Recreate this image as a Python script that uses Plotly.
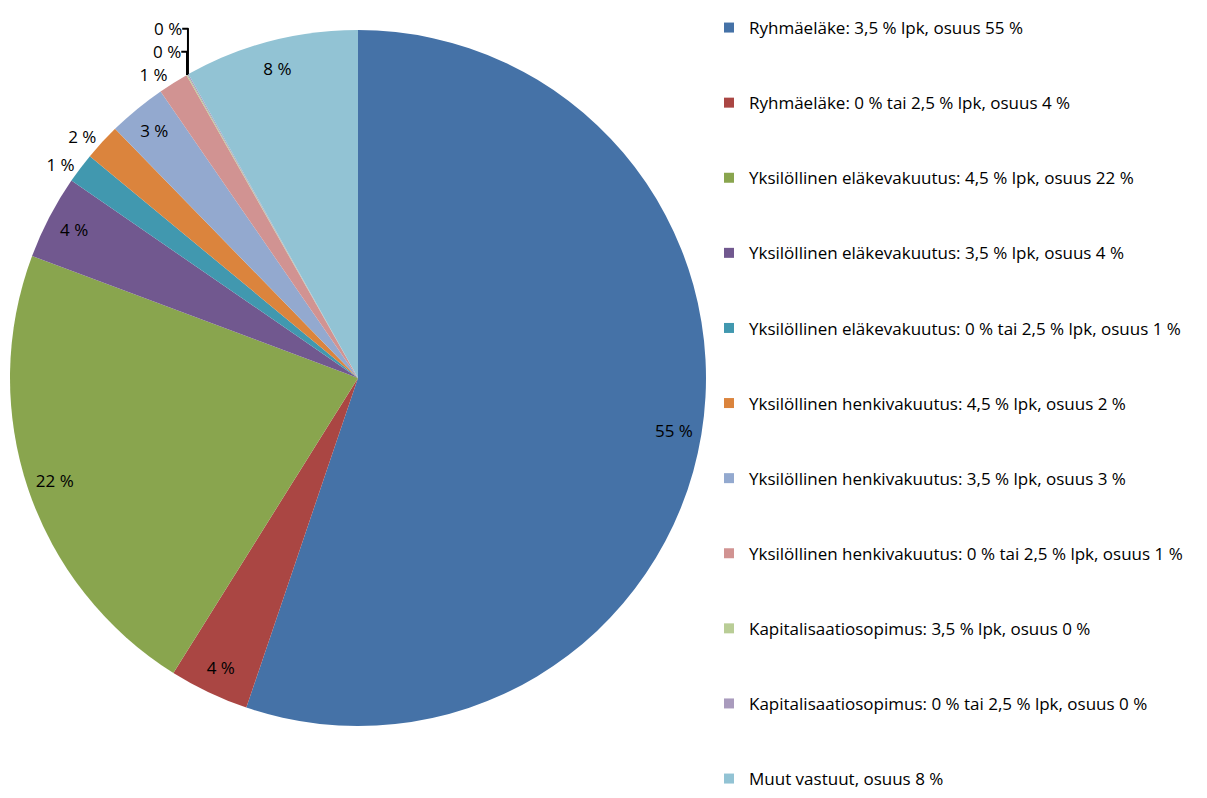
import plotly.graph_objects as go

categories = [
    "Ryhmäeläke: 3,5 % lpk, osuus 55 %",
    "Ryhmäeläke: 0 % tai 2,5 % lpk, osuus 4 %",
    "Yksilöllinen eläkevakuutus: 4,5 % lpk, osuus 22 %",
    "Yksilöllinen eläkevakuutus: 3,5 % lpk, osuus 4 %",
    "Yksilöllinen eläkevakuutus: 0 % tai 2,5 % lpk, osuus 1 %",
    "Yksilöllinen henkivakuutus: 4,5 % lpk, osuus 2 %",
    "Yksilöllinen henkivakuutus: 3,5 % lpk, osuus 3 %",
    "Yksilöllinen henkivakuutus: 0 % tai 2,5 % lpk, osuus 1 %",
    "Kapitalisaatiosopimus: 3,5 % lpk, osuus 0 %",
    "Kapitalisaatiosopimus: 0 % tai 2,5 % lpk, osuus 0 %",
    "Muut vastuut, osuus 8 %",
]
values = [55.2, 3.7, 21.8, 3.9, 1.4, 1.7, 2.7, 1.4, 0.05, 0.05, 8.1]
colors = ["#4572A7", "#AA4643", "#89A54E", "#71588F", "#4198AF", "#DB843D",
          "#93A9CF", "#D19392", "#B9CD96", "#A99BBD", "#92C3D4"]
label_pos = ["inside", "inside", "inside", "inside", "outside", "outside",
             "inside", "outside", "outside", "outside", "inside"]

texts = [f"{round(v)} %" for v in values]

W, H = 1207, 798
cx, cy, r = 358, 378, 348
FONT = "Open Sans"
dom = dict(x=[(cx - r) / W, (cx + r) / W],
           y=[(H - cy - r) / H, (H - cy + r) / H])

fig = go.Figure()
# coloured slices
fig.add_trace(go.Pie(
    labels=categories, values=values, textinfo="none",
    sort=False, direction="clockwise", rotation=0,
    marker=dict(colors=colors, line=dict(width=0)),
    showlegend=False, hoverinfo="label+percent", domain=dom,
))
# transparent ring carrying the data labels near the rim
fig.add_trace(go.Pie(
    labels=categories, values=values, text=texts, textinfo="text",
    textposition=label_pos, insidetextorientation="horizontal",
    hole=0.84, sort=False, direction="clockwise", rotation=0,
    marker=dict(colors=["rgba(0,0,0,0)"] * len(values), line=dict(width=0)),
    textfont=dict(family=FONT, size=17, color="#000000"),
    showlegend=False, hoverinfo="skip", domain=dom,
))

for i, (name, col) in enumerate(zip(categories, colors)):
    fig.add_trace(go.Scatter(
        x=[None], y=[None], mode="markers", name=name,
        marker=dict(symbol="square", size=10, color=col),
        legendgroup=f"g{i}", showlegend=True,
    ))

fig.update_layout(
    width=W, height=H,
    margin=dict(l=0, r=0, t=0, b=0),
    paper_bgcolor="white", plot_bgcolor="white",
    xaxis=dict(visible=False), yaxis=dict(visible=False),
    legend=dict(
        x=709 / W, y=1 - 10 / H, xanchor="left", yanchor="top",
        font=dict(family=FONT, size=17, color="#000000"),
        tracegroupgap=50, itemwidth=30,
        bgcolor="rgba(0,0,0,0)",
    ),
)

fig.write_html("out.html")
